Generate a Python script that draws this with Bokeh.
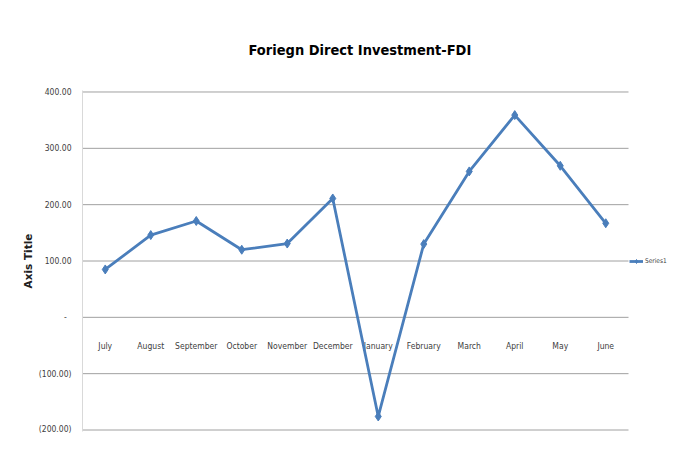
from bokeh.plotting import figure
from bokeh.models import (ColumnDataSource, Range1d, FixedTicker,
                          Legend, LegendItem)
from bokeh.core.properties import value
from bokeh.embed import file_html
from bokeh.resources import INLINE

months = ["July", "August", "September", "October", "November", "December",
          "January", "February", "March", "April", "May", "June"]
fdi = [85, 146, 171, 120, 131, 211, -176, 130, 259, 359, 269, 167]
y_ticks = [-200, -100, 0, 100, 200, 300, 400]
y_tick_labels = ["(200.00)", "(100.00)", " - ", "100.00", "200.00", "300.00", "400.00"]
series_name = "Series1"
title_text = "Foriegn Direct Investment-FDI"
axis_title = "Axis Title"

FONT = "DejaVu Sans Condensed"
BLUE = "#4A7EBB"

n = len(months)
idx = list(range(n))
src = ColumnDataSource(dict(i=idx, month=months, fdi=fdi, zero=[0] * n))
grid_src = ColumnDataSource(dict(x0=[-0.5] * len(y_ticks),
                                 x1=[n - 0.5] * len(y_ticks),
                                 y=y_ticks))

# frame: 82..672 px wide; categories occupy 82..628 (45.5 px each)
p = figure(width=672, height=433, output_backend="svg", toolbar_location=None,
           x_range=Range1d(-0.5, n - 0.5 + 44 / 45.5),
           y_range=Range1d(-202.66, 402.66),
           min_border_left=82, min_border_right=0, min_border_top=90,
           min_border_bottom=2)
p.outline_line_color = None
p.background_fill_color = "white"
p.border_fill_color = "white"

# title
p.title.text = title_text
p.title.align = "left"
p.title.offset = 166
p.title.text_font = FONT
p.title.text_font_style = "bold"
p.title.text_font_size = "14.5px"
p.title.text_color = "#000000"
p.title.standoff = 65

# y axis
p.yaxis.ticker = FixedTicker(ticks=y_ticks)
p.yaxis.major_label_overrides = {t: l for t, l in zip(y_ticks, y_tick_labels)}
p.yaxis.major_tick_line_color = None
p.yaxis.minor_tick_line_color = None
p.yaxis.axis_line_color = "#D9D9D9"
p.yaxis.axis_line_width = 1
p.yaxis.major_label_standoff = 5
p.yaxis.major_label_text_font = FONT
p.yaxis.major_label_text_font_size = "8.5px"
p.yaxis.major_label_text_color = "#404040"
p.yaxis.axis_label = axis_title
p.yaxis.axis_label_text_font = "DejaVu Sans"
p.yaxis.axis_label_text_font_style = "bold"
p.yaxis.axis_label_text_font_size = "10.5px"
p.yaxis.axis_label_text_color = "#202020"
p.yaxis.axis_label_standoff = 2

p.xaxis.visible = False
p.xgrid.grid_line_color = None
p.ygrid.grid_line_color = None

# horizontal gridlines over the category area only
p.segment(x0="x0", x1="x1", y0="y", y1="y", source=grid_src,
          line_color="#A0A0A0", line_width=1)

# category labels next to the zero line
p.text(x="i", y="zero", text="month", source=src, y_offset=29,
       text_align="center", text_baseline="middle",
       text_font=value(FONT), text_font_size="8.5px", text_color="#404040")

line = p.line(x="i", y="fdi", source=src, line_color=BLUE, line_width=2.8)
pts = p.scatter(x="i", y="fdi", source=src, marker="diamond", size=9,
                fill_color=BLUE, line_color=BLUE)

legend = Legend(items=[LegendItem(label=series_name, renderers=[line, pts])],
                location=(547, 165), padding=0, margin=0, spacing=0,
                glyph_width=14, glyph_height=10, label_standoff=2,
                border_line_color=None, background_fill_alpha=0,
                label_text_font=FONT, label_text_font_size="6.5px",
                label_text_color="#404040")
p.add_layout(legend, "center")

open("out.html", "w").write(file_html(p, INLINE))
